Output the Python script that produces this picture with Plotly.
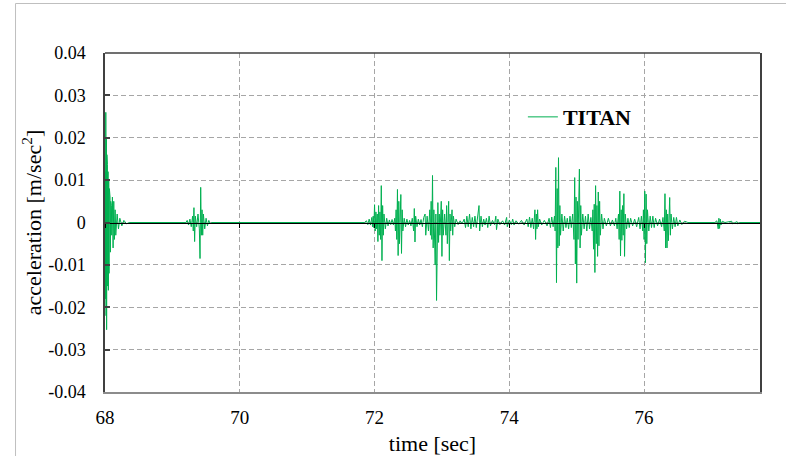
import plotly.graph_objects as go

# ---------------- data ----------------
x_ticks = [68, 70, 72, 74, 76]
y_ticks = [-0.04, -0.03, -0.02, -0.01, 0.0, 0.01, 0.02, 0.03, 0.04]
y_tick_labels = ["-0.04", "-0.03", "-0.02", "-0.01", "0", "0.01", "0.02", "0.03", "0.04"]
series_name = "TITAN"

# burst at 68.0 s
t_b1 = [68.000, 68.004, 68.008, 68.012, 68.016, 68.020, 68.024, 68.028, 68.032, 68.036,
        68.040, 68.045, 68.050, 68.055, 68.060, 68.065, 68.070, 68.075, 68.080, 68.085,
        68.090, 68.095, 68.100, 68.110, 68.120, 68.130, 68.140, 68.150, 68.160, 68.180,
        68.200, 68.220, 68.250, 68.280, 68.320, 68.360]
a_b1 = [0.0, 0.012, -0.018, 0.026, -0.022, 0.020, -0.0253, 0.016, -0.020, 0.0137,
        -0.015, 0.012, -0.016, 0.010, -0.012, 0.008, -0.009, 0.006, -0.007, 0.005,
        -0.004, 0.004, -0.003, 0.006, -0.006, 0.005, -0.004, 0.003, -0.003, 0.002,
        -0.0015, 0.001, -0.0008, 0.0005, -0.0003, 0.0]

# burst at 69.4 s
t_b2 = [69.20, 69.22, 69.24, 69.26, 69.28, 69.30, 69.31, 69.32, 69.33, 69.34,
        69.36, 69.38, 69.40, 69.41, 69.42, 69.43, 69.44, 69.45, 69.46, 69.48,
        69.50, 69.52, 69.54, 69.56, 69.58]
a_b2 = [0.0, 0.0005, -0.0006, 0.0008, -0.001, 0.0015, -0.002, 0.0035, -0.0045, 0.0015,
        -0.001, 0.002, -0.0015, -0.0085, 0.0083, -0.003, 0.003, -0.003, 0.002, -0.0015,
        0.001, -0.0008, 0.0005, -0.0003, 0.0]

# bursts 71.85 - 73.30 s
t_b3 = [71.85, 71.88, 71.90, 71.92, 71.94, 71.96, 71.97, 71.98, 71.99, 72.00,
        72.01, 72.02, 72.03, 72.04, 72.05, 72.06, 72.07, 72.08, 72.09, 72.10,
        72.11, 72.12, 72.13, 72.14, 72.16, 72.18, 72.20, 72.22, 72.24, 72.26,
        72.28, 72.30, 72.31, 72.32, 72.33, 72.34, 72.35, 72.36, 72.37, 72.39,
        72.40, 72.41, 72.42, 72.44, 72.46, 72.48, 72.50, 72.52, 72.54, 72.56,
        72.58, 72.59, 72.60, 72.61, 72.63, 72.65, 72.67, 72.69, 72.71, 72.73,
        72.75, 72.76, 72.78, 72.80, 72.82, 72.83, 72.84, 72.85, 72.86, 72.87,
        72.88, 72.90, 72.91, 72.92, 72.93, 72.94, 72.95, 72.96, 72.97, 72.99,
        73.00, 73.01, 73.02, 73.04, 73.06, 73.07, 73.08, 73.09, 73.10, 73.11,
        73.12, 73.13, 73.15, 73.16, 73.17, 73.19, 73.21, 73.24, 73.27, 73.30]
a_b3 = [0.0, 0.0004, -0.0005, 0.0008, -0.0006, 0.0012, -0.001, 0.0015, -0.0012, 0.0042,
        -0.002, 0.0025, -0.0015, 0.002, -0.0045, 0.004, -0.003, 0.0025, -0.004, 0.0087,
        -0.009, 0.004, -0.003, 0.002, -0.0015, 0.001, -0.0008, 0.0006, -0.0005, 0.0007,
        -0.0006, 0.001, -0.002, 0.003, -0.004, 0.0078, -0.0078, 0.005, -0.005, 0.0066,
        -0.0073, 0.003, -0.002, 0.001, -0.001, 0.0008, -0.0006, 0.0005, -0.0008, 0.001,
        -0.002, 0.0033, -0.0046, 0.0015, -0.001, 0.0008, -0.0006, 0.0007, -0.001, 0.0012,
        0.002, -0.003, 0.0015, -0.002, 0.003, -0.003, 0.005, -0.004, 0.0111, -0.006,
        0.003, -0.010, 0.002, -0.0184, 0.004, 0.0047, -0.0047, 0.002, -0.003, 0.005,
        -0.008, 0.003, -0.003, 0.002, -0.003, 0.004, -0.005, 0.002, 0.005, -0.009,
        0.002, -0.002, 0.003, -0.003, 0.0015, -0.001, 0.0008, -0.0005, 0.0004, -0.0003]

# low-level activity 73.33 - 74.56 s
t_b4 = [73.33, 73.35, 73.37, 73.39, 73.41, 73.43, 73.45, 73.47, 73.49, 73.51,
        73.53, 73.55, 73.56, 73.58, 73.60, 73.62, 73.64, 73.66, 73.68, 73.70,
        73.72, 73.75, 73.78, 73.80, 73.81, 73.83, 73.86, 73.90, 73.93, 73.96,
        73.97, 74.00, 74.03, 74.05, 74.07, 74.10, 74.14, 74.18, 74.22, 74.26,
        74.28, 74.30, 74.32, 74.34, 74.36, 74.38, 74.39, 74.40, 74.41, 74.42,
        74.43, 74.45, 74.48, 74.52, 74.56]
a_b4 = [0.0008, -0.0012, 0.0015, -0.001, 0.002, -0.0015, 0.0012, -0.001, 0.0015, -0.0012,
        0.002, 0.004, -0.002, 0.0015, -0.001, 0.0008, -0.0006, 0.001, -0.0012, 0.0015,
        -0.0008, 0.0005, -0.0005, 0.0015, -0.0017, 0.0008, -0.0005, 0.0004, -0.0006, 0.0012,
        -0.001, 0.0006, -0.0005, 0.0008, -0.0006, 0.0004, -0.0004, 0.0005, -0.0006, 0.0008,
        -0.001, 0.0013, -0.0012, 0.001, -0.0015, 0.003, -0.004, 0.002, -0.0015, 0.003,
        -0.001, 0.0008, -0.0006, 0.0005, -0.0008]

# bursts 74.59 - 76.65 s
t_b5 = [74.59, 74.61, 74.63, 74.65, 74.67, 74.68, 74.69, 74.70, 74.71, 74.72,
        74.73, 74.74, 74.75, 74.76, 74.78, 74.80, 74.82, 74.84, 74.86, 74.88,
        74.90, 74.92, 74.94, 74.96, 74.97, 74.98, 74.99, 75.00, 75.01, 75.02,
        75.04, 75.05, 75.06, 75.07, 75.09, 75.11, 75.13, 75.15, 75.17, 75.19,
        75.21, 75.23, 75.24, 75.25, 75.26, 75.27, 75.28, 75.29, 75.30, 75.31,
        75.32, 75.33, 75.34, 75.35, 75.37, 75.39, 75.41, 75.44, 75.47, 75.50,
        75.53, 75.56, 75.58, 75.60, 75.62, 75.63, 75.64, 75.65, 75.66, 75.67,
        75.68, 75.69, 75.70, 75.71, 75.72, 75.74, 75.76, 75.78, 75.80, 75.83,
        75.86, 75.89, 75.92, 75.94, 75.96, 75.98, 75.99, 76.00, 76.01, 76.02,
        76.03, 76.04, 76.05, 76.07, 76.09, 76.11, 76.13, 76.15, 76.17, 76.20,
        76.23, 76.26, 76.28, 76.30, 76.31, 76.32, 76.33, 76.34, 76.35, 76.36,
        76.38, 76.39, 76.40, 76.42, 76.44, 76.46, 76.48, 76.50, 76.53, 76.56,
        76.60, 76.65]
a_b5 = [0.001, -0.0012, 0.0013, -0.001, 0.0015, -0.002, 0.013, -0.0142, 0.008, -0.006,
        0.0153, -0.0055, 0.004, -0.003, 0.002, -0.002, 0.0015, -0.0012, 0.001, -0.0015,
        0.0015, -0.0012, 0.002, -0.004, 0.0106, -0.0098, 0.006, -0.0143, 0.005, -0.004,
        0.0126, -0.006, 0.004, -0.003, 0.002, -0.0015, 0.0015, -0.002, 0.002, -0.0015,
        0.0012, -0.002, 0.003, -0.0063, 0.0043, -0.0118, 0.0087, -0.005, 0.004, -0.008,
        0.0072, -0.0055, 0.005, -0.003, 0.002, -0.0015, 0.001, -0.0008, 0.001, -0.0008,
        0.0006, -0.0008, 0.001, -0.0015, 0.002, -0.004, 0.0074, -0.0079, 0.003, -0.0042,
        0.004, -0.003, 0.0068, -0.008, 0.002, -0.0015, 0.001, -0.0012, 0.001, -0.0008,
        0.0008, -0.001, 0.0012, -0.0015, 0.0015, -0.002, 0.003, -0.004, 0.0074, -0.0095,
        0.0067, -0.005, 0.003, -0.002, 0.0015, -0.0012, 0.0015, -0.0012, 0.001, -0.0008,
        0.0008, -0.001, 0.0012, -0.002, 0.0068, -0.006, 0.003, -0.006, 0.002, -0.0043,
        0.0059, -0.003, 0.002, -0.0015, 0.0012, -0.001, 0.0012, -0.0008, 0.0006, -0.0005,
        0.0003, 0.0]

# small burst near 77.1 s
t_b6 = [77.05, 77.08, 77.10, 77.11, 77.12, 77.13, 77.14, 77.16, 77.20, 77.30,
        77.31, 77.38, 77.39, 77.42]
a_b6 = [0.0, 0.0004, -0.0015, 0.001, -0.0014, 0.0008, -0.0006, 0.0003, 0.0, 0.0003,
        -0.0003, 0.0002, -0.0003, 0.0]

t_end = [77.72]
a_end = [0.0]

time_s = t_b1 + t_b2 + t_b3 + t_b4 + t_b5 + t_b6 + t_end
accel = a_b1 + a_b2 + a_b3 + a_b4 + a_b5 + a_b6 + a_end

# ---------------- figure ----------------
serif = "Times New Roman, Liberation Serif, serif"
grid_col = "#a6a6a6"
frame_col = "#404040"


def sfont(size, bold=False):
    return dict(family=serif, size=size, color="black", weight="bold" if bold else "normal")


fig = go.Figure()
fig.add_trace(go.Scatter(
    x=time_s, y=accel, mode="lines", name=series_name,
    line=dict(color="#00B050", width=1),
    xaxis="x", yaxis="y",
))
# invisible helper trace so the zero-crossing axis is rendered
fig.add_trace(go.Scatter(
    x=[x_ticks[0]], y=[0], mode="markers", marker=dict(opacity=0),
    showlegend=False, hoverinfo="skip", xaxis="x2", yaxis="y",
))

x_range = [68, 77.72]

fig.update_layout(
    width=786, height=456,
    margin=dict(l=105, r=26, t=53, b=64, autoexpand=False),
    paper_bgcolor="white", plot_bgcolor="white",
    font=sfont(18),
    showlegend=True,
    legend=dict(
        x=0.638, y=0.811, xanchor="left", yanchor="middle",
        bgcolor="rgba(0,0,0,0)", borderwidth=0,
        font=sfont(22, bold=True),
    ),
    xaxis=dict(
        range=x_range, tickvals=x_ticks, ticktext=[str(v) for v in x_ticks],
        showgrid=True, gridcolor=grid_col, griddash="5px,3px", gridwidth=1,
        zeroline=False, showline=True, linecolor="#8c8c8c", linewidth=1.5,
        ticks="", ticklabelstandoff=7, automargin=False,
        tickfont=sfont(19),
        title=dict(text="time [sec]", font=sfont(22), standoff=13),
    ),
    xaxis2=dict(
        range=x_range, overlaying="x", anchor="free", position=0.5,
        tickvals=x_ticks, showticklabels=False, ticks="outside", ticklen=4,
        tickcolor="black", tickwidth=1, showline=True, linecolor="black", linewidth=1,
        showgrid=False, zeroline=False, layer="above traces", automargin=False,
    ),
    yaxis=dict(
        range=[-0.04, 0.04], tickvals=y_ticks, ticktext=y_tick_labels,
        showgrid=True, gridcolor=grid_col, griddash="5px,3px", gridwidth=1,
        zeroline=False, showline=True, linecolor=frame_col, linewidth=1.5, mirror=True,
        ticks="inside", ticklen=5, tickcolor=frame_col, tickwidth=1.5,
        ticklabelstandoff=14, automargin=False,
        tickfont=sfont(18),
        title=dict(text="acceleration [m/sec<sup>2</sup>]", font=sfont(22), standoff=0),
    ),
    shapes=[
        # top border of the plot area
        dict(type="line", xref="paper", yref="paper", x0=0, x1=1, y0=1, y1=1,
             line=dict(color=frame_col, width=1.5)),
        # light outer chart frame
        dict(type="rect", xref="paper", yref="paper",
             x0=-0.1366, x1=1.1, y0=-0.3, y1=1.146,
             line=dict(color="#bfbfbf", width=1), layer="below"),
    ],
)

fig.write_html("out.html")
